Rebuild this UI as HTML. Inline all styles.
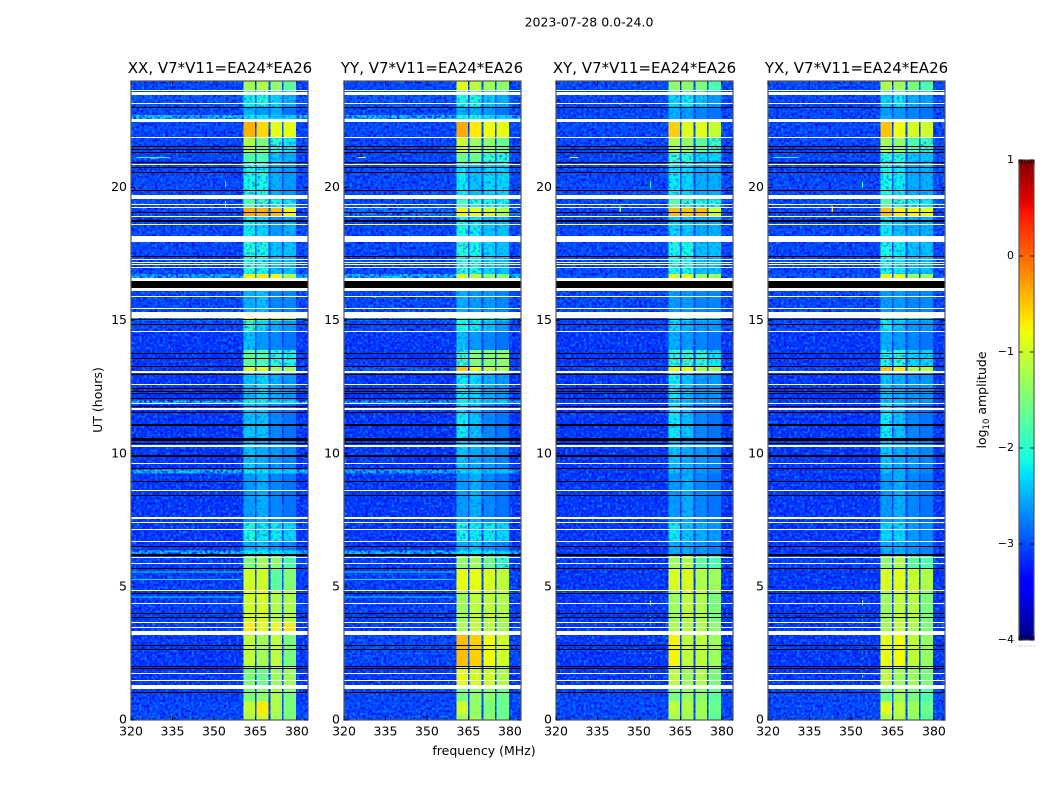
<!DOCTYPE html>
<html lang="en">
<head>
<meta charset="utf-8">
<title>2023-07-28 0.0-24.0</title>
<style>
html,body{margin:0;padding:0;background:#fff;}
#chart{display:block;}
text{font-family:"DejaVu Sans","Liberation Sans",sans-serif;fill:#000;}
</style>
</head>
<body>
<svg id="chart" xmlns="http://www.w3.org/2000/svg" width="1050" height="800" viewBox="0 0 1050 800">
  <defs>
    <filter id="speckle" x="0" y="0" width="100%" height="100%" color-interpolation-filters="sRGB">
      <feTurbulence type="fractalNoise" baseFrequency="0.38" numOctaves="1" seed="4" result="n"/>
      <feColorMatrix in="n" type="matrix" values="0 0 0 0 0  0 0 0 0 0.5  0 0 0 0 1  4 0 0 0 -1.95" result="light"/>
      <feColorMatrix in="n" type="matrix" values="0 0 0 0 0  0 0 0 0 0.06  0 0 0 0 0.95  0 4.5 0 0 -2.0" result="dark"/>
      <feMerge><feMergeNode in="dark"/><feMergeNode in="light"/></feMerge>
    </filter>
    <filter id="speckle-band" x="0" y="0" width="100%" height="100%" color-interpolation-filters="sRGB">
      <feTurbulence type="fractalNoise" baseFrequency="0.38" numOctaves="1" seed="9" result="n"/>
      <feColorMatrix in="n" type="matrix" values="0 0 0 0 0  0 0 0 0 0.45  0 0 0 0 1  0 3 0 0 -1.45"/>
    </filter>
  </defs>
  <rect width="1050" height="800" fill="#fff"/>
  <text x="589" y="26.5" font-size="12.5" text-anchor="middle">2023-07-28 0.0-24.0</text>
  <text x="220" y="73" font-size="15" text-anchor="middle">XX, V7*V11=EA24*EA26</text>
  <text x="432" y="73" font-size="15" text-anchor="middle">YY, V7*V11=EA24*EA26</text>
  <text x="644.5" y="73" font-size="15" text-anchor="middle">XY, V7*V11=EA24*EA26</text>
  <text x="856.5" y="73" font-size="15" text-anchor="middle">YX, V7*V11=EA24*EA26</text>
  <text transform="translate(102,400) rotate(-90)" font-size="12.5" text-anchor="middle">UT (hours)</text>
  <text x="484" y="755" font-size="12.5" text-anchor="middle">frequency (MHz)</text>
  <text transform="translate(986,400) rotate(-90)" font-size="12.5" text-anchor="middle">log<tspan font-size="8.5" dy="3">10</tspan><tspan dy="-3"> amplitude</tspan></text>
  <g id="panels"></g>
  <g id="colorbar"></g>
</svg>
<script>
// ---- Axis data ----
const xTickLabels = [320, 335, 350, 365, 380];
const yTickLabels = [0, 5, 10, 15, 20];
const colorbarTickLabels = [1, 0, -1, -2, -3, -4];
const colorbarEdgeTicks = [0, 0.2, 0.4, 0.6, 0.8, 1];
const panelNames = ['xx', 'yy', 'xy', 'yx'];

// Sub-band limits in MHz
const subBandStart = [360.6, 365.4, 370.4, 375.2];
const subBandEnd = [364.9, 369.7, 374.6, 379.7];

// Time-segment edges in UT hours, descending; segment i runs segmentEdges[i]..segmentEdges[i+1]
const segmentEdges = [24, 23.6, 23.05, 22.72, 22.47, 21.9, 21.3, 20.9, 19.55, 19.25, 18.92, 18.16, 16.75, 16.6, 15.11, 15, 14.6, 13.9, 13.3, 13.1, 12, 11.9, 10.55, 9.4, 9.25, 7.4, 6.7, 6.37, 6.2, 5.7, 4.87, 3.7, 3.19, 2, 1.3, 0.7, 0.2, 0];

// log10 amplitude per segment: [background, band1, band2, band3, band4]
const xxValues = [
[-3.0,-1.3,-1.2,-1.4,-1.7],[-2.9,-2.2,-2.1,-2.3,-2.5],[-3.0,-2.5,-2.6,-2.5,-2.8],[-2.3,-2.2,-2.2,-2.3,-2.3],
[-3.0,-0.4,-0.6,-0.85,-0.85],[-3.0,-1.2,-1.5,-2.0,-2.2],[-3.0,-1.8,-1.8,-2.4,-2.5],[-3.0,-2.1,-2.1,-2.5,-2.6],
[-3.0,-1.8,-1.9,-2.1,-2.2],[-3.0,-0.35,-0.4,-0.45,-0.75],[-3.0,-2.2,-2.3,-2.6,-2.5],[-3.0,-2.05,-2.1,-2.4,-2.4],
[-2.4,-0.8,-0.7,-0.8,-1.2],[-3.0,-2.5,-2.4,-2.7,-2.7],[-2.5,-0.9,-1.2,-1.2,-1.4],[-3.0,-2.0,-2.3,-2.5,-2.6],
[-3.1,-2.4,-2.6,-2.7,-2.8],[-3.1,-1.7,-1.8,-2.0,-2.1],[-3.1,-0.9,-0.95,-1.3,-1.3],[-3.1,-2.4,-2.3,-2.5,-2.6],
[-2.2,-2.1,-2.1,-2.2,-2.2],[-3.1,-2.4,-2.4,-2.7,-2.8],[-3.1,-2.4,-2.5,-2.6,-2.7],[-2.3,-2.2,-2.2,-2.3,-2.3],
[-3.1,-2.6,-2.5,-2.7,-2.8],[-3.1,-2.1,-2.2,-2.2,-2.3],[-3.1,-2.5,-2.4,-2.6,-2.7],[-2.3,-2.2,-2.2,-2.2,-2.3],
[-3.05,-1.5,-1.25,-1.4,-1.8],[-3.05,-1.0,-1.0,-1.7,-1.45],[-3.05,-1.0,-0.95,-1.2,-1.2],[-3.05,-0.7,-0.85,-0.85,-0.7],
[-3.1,-1.1,-1.25,-1.1,-1.5],[-3.1,-1.5,-1.6,-1.3,-1.3],[-3.05,-1.5,-1.4,-1.2,-1.5],[-3.0,-1.1,-0.7,-1.2,-1.5],[-3.0,-1.2,-1.0,-1.3,-1.5]
];
const yyValues = [
[-3.0,-0.9,-1.1,-1.3,-1.4],[-2.9,-2.1,-2.1,-2.4,-2.5],[-3.0,-2.5,-2.5,-2.6,-2.8],[-2.3,-2.1,-2.1,-2.2,-2.3],
[-3.0,-0.35,-0.7,-0.8,-0.85],[-3.0,-1.0,-1.3,-1.4,-1.6],[-3.0,-1.6,-1.6,-1.9,-2.0],[-3.0,-2.2,-2.4,-2.3,-2.3],
[-3.0,-1.8,-2.0,-2.1,-2.1],[-2.7,-0.75,-0.85,-0.95,-1.2],[-3.0,-2.1,-2.2,-2.4,-2.4],[-3.0,-2.0,-2.1,-2.3,-2.4],
[-2.3,-1.0,-1.1,-1.4,-1.5],[-3.0,-2.5,-2.6,-2.6,-2.7],[-2.5,-1.8,-1.8,-1.9,-2.0],[-3.0,-2.1,-2.2,-2.4,-2.6],
[-3.1,-2.4,-2.6,-2.7,-2.8],[-3.1,-1.9,-1.5,-1.45,-1.4],[-2.9,-0.5,-0.85,-1.1,-1.2],[-3.1,-2.2,-2.3,-2.5,-2.6],
[-2.4,-2.2,-2.2,-2.3,-2.3],[-3.1,-2.2,-2.4,-2.7,-2.8],[-3.1,-2.4,-2.5,-2.6,-2.7],[-2.4,-2.3,-2.3,-2.4,-2.4],
[-3.1,-2.6,-2.5,-2.7,-2.8],[-3.1,-2.1,-2.2,-2.2,-2.3],[-3.1,-2.5,-2.4,-2.6,-2.7],[-2.3,-2.2,-2.2,-2.2,-2.3],
[-3.05,-1.4,-1.3,-1.6,-1.9],[-3.05,-0.85,-0.85,-0.95,-1.1],[-3.05,-1.3,-1.1,-1.1,-1.2],[-3.05,-1.2,-1.1,-1.15,-1.25],
[-3.0,-0.45,-0.55,-0.8,-1.0],[-3.1,-0.85,-1.0,-1.0,-1.2],[-3.0,-1.5,-1.4,-1.4,-1.6],[-3.0,-1.0,-1.35,-1.5,-1.6],[-3.0,-1.3,-1.3,-1.4,-1.6]
];
const xyValues = [
[-3.0,-1.4,-1.4,-1.5,-1.8],[-3.0,-2.3,-2.2,-2.4,-2.6],[-3.0,-2.5,-2.6,-2.7,-2.8],[-3.0,-2.5,-2.6,-2.7,-2.8],
[-3.0,-0.55,-0.9,-0.9,-1.05],[-3.0,-1.2,-1.35,-1.7,-1.9],[-3.0,-1.9,-2.0,-2.3,-2.3],[-3.0,-2.2,-2.3,-2.5,-2.5],
[-3.0,-1.7,-1.9,-2.0,-2.1],[-3.0,-0.45,-0.5,-0.45,-1.0],[-3.0,-2.3,-2.4,-2.5,-2.5],[-3.0,-2.1,-2.1,-2.4,-2.4],
[-2.9,-0.9,-0.9,-1.3,-1.3],[-3.0,-2.6,-2.6,-2.7,-2.7],[-3.0,-2.0,-2.1,-2.2,-2.3],[-3.0,-2.3,-2.5,-2.6,-2.6],
[-3.1,-2.5,-2.6,-2.7,-2.8],[-3.1,-2.0,-1.9,-2.0,-2.2],[-3.0,-0.85,-0.85,-1.3,-1.3],[-3.1,-2.2,-2.4,-2.6,-2.6],
[-3.0,-2.4,-2.4,-2.5,-2.6],[-3.1,-2.2,-2.4,-2.7,-2.8],[-3.1,-2.4,-2.5,-2.6,-2.7],[-3.1,-2.4,-2.5,-2.6,-2.7],
[-3.1,-2.6,-2.5,-2.7,-2.8],[-3.1,-2.2,-2.4,-2.5,-2.6],[-3.1,-2.5,-2.5,-2.6,-2.7],[-3.1,-2.5,-2.5,-2.6,-2.7],
[-3.05,-1.3,-1.2,-1.7,-1.8],[-3.1,-0.95,-0.95,-1.2,-1.3],[-3.1,-1.3,-1.1,-1.2,-1.5],[-3.1,-1.2,-1.2,-1.2,-1.4],
[-3.1,-0.75,-1.1,-1.1,-1.3],[-3.1,-1.1,-1.3,-1.2,-1.5],[-3.0,-1.5,-1.3,-1.4,-1.7],[-3.0,-1.1,-1.2,-1.3,-1.6],[-3.0,-1.3,-1.3,-1.3,-1.7]
];
const yxValues = [
[-3.0,-1.2,-1.3,-1.5,-1.8],[-3.0,-2.3,-2.2,-2.5,-2.6],[-3.0,-2.6,-2.6,-2.7,-2.8],[-3.0,-2.5,-2.6,-2.7,-2.8],
[-3.0,-0.5,-0.8,-0.95,-1.0],[-3.0,-1.25,-1.4,-1.8,-1.9],[-3.0,-2.0,-2.0,-2.4,-2.4],[-3.0,-2.1,-2.2,-2.5,-2.5],
[-3.0,-1.7,-1.9,-2.1,-2.2],[-3.0,-0.45,-0.7,-0.75,-0.85],[-3.0,-2.2,-2.4,-2.5,-2.5],[-3.0,-2.1,-2.2,-2.4,-2.4],
[-2.9,-0.85,-0.85,-1.3,-1.3],[-3.0,-2.6,-2.6,-2.7,-2.7],[-3.0,-2.0,-2.1,-2.2,-2.3],[-3.0,-2.2,-2.4,-2.6,-2.6],
[-3.1,-2.5,-2.6,-2.7,-2.8],[-3.1,-2.1,-2.0,-2.3,-2.3],[-3.0,-0.5,-0.7,-1.2,-1.2],[-3.1,-2.4,-2.5,-2.6,-2.6],
[-3.0,-2.4,-2.4,-2.5,-2.6],[-3.1,-2.2,-2.4,-2.7,-2.8],[-3.1,-2.4,-2.5,-2.6,-2.7],[-3.1,-2.4,-2.5,-2.6,-2.7],
[-3.1,-2.6,-2.5,-2.7,-2.8],[-3.1,-2.3,-2.3,-2.6,-2.7],[-3.1,-2.5,-2.5,-2.6,-2.7],[-3.1,-2.5,-2.5,-2.6,-2.7],
[-3.05,-1.4,-1.2,-1.7,-1.8],[-3.1,-0.95,-0.9,-1.05,-1.2],[-3.1,-1.3,-1.1,-1.15,-1.5],[-3.1,-1.25,-1.1,-1.2,-1.5],
[-3.1,-0.85,-0.8,-1.1,-1.35],[-3.1,-1.1,-1.3,-1.3,-1.5],[-3.0,-1.6,-1.3,-1.5,-1.8],[-3.0,-0.9,-1.1,-1.3,-1.6],[-3.0,-1.2,-1.2,-1.4,-1.7]
];

// Flagged time ranges in UT hours [low, high]: blank (white) and zero-amplitude (black)
const blankRows = [
[23.61,23.66],[23.48,23.58],[23.14,23.18],[22.47,22.57],[21.86,21.90],[20.83,20.87],[19.55,19.73],[19.35,19.39],
[19.22,19.25],[18.88,18.92],[18.59,18.63],[17.97,18.16],[17.29,17.32],[17.19,17.22],[17.09,17.13],[16.99,17.02],
[16.50,16.61],[16.12,16.24],[15.90,15.94],[15.45,15.49],[15.11,15.31],[14.59,14.62],[13.05,13.12],[12.58,12.62],
[11.87,11.92],[11.66,11.70],[10.27,10.31],[9.64,9.67],[8.59,8.62],[7.54,7.61],[7.39,7.42],[7.12,7.16],[6.67,6.71],
[6.09,6.13],[5.85,5.89],[4.84,4.87],[4.35,4.39],[3.64,3.67],[3.45,3.49],[3.19,3.35],[1.72,1.76],[1.46,1.52],[1.17,1.32]
];
const zeroRows = [
[22.99,23.03],[21.52,21.55],[21.39,21.43],[21.29,21.33],[20.91,20.94],[20.72,20.76],[20.56,20.59],[19.87,19.90],
[19.06,19.09],[18.71,18.77],[17.40,17.43],[16.24,16.50],[15.03,15.06],[14.84,14.88],[13.73,13.77],[13.55,13.58],
[13.26,13.29],[12.97,13.00],[12.43,12.47],[12.33,12.36],[12.23,12.27],[12.04,12.08],[11.75,11.79],[11.52,11.56],
[11.03,11.10],[10.49,10.58],[10.35,10.40],[9.89,9.95],[9.42,9.47],[8.93,8.99],[8.41,8.45],[6.52,6.55],[6.17,6.22],
[5.67,5.70],[4.74,4.77],[3.98,4.02],[3.83,3.87],[2.77,2.80],[2.63,2.67],[1.98,2.02],[1.91,1.94],[1.02,1.05]
];

// Narrow interference features: [mhzLow, mhzHigh, hourLow, hourHigh, log10 amplitude]
const xxFeatures = [[320,360,5.54,5.57,-2.3],[320,360,5.26,5.29,-2.3],[320,360,4.60,4.63,-2.3],[354,354.4,4.6,4.63,-1.9],[354,354.4,3.86,3.89,-1.9],[354,354.4,19.25,19.5,-1.6],[354,354.4,20.0,20.25,-2],[327,330,21.1,21.13,-1.0],[322,334,21.12,21.15,-2.1]];
const yyFeatures = [[320,360,5.54,5.57,-2.3],[320,360,5.26,5.29,-2.3],[320,360,4.60,4.63,-2.3],[325,328,21.12,21.15,-0.9],[331,331.5,15.86,15.89,-0.4],[331,331.5,15.2,15.23,-1.5]];
const xyFeatures = [[354,354.4,4.84,4.87,-1.5],[354,354.4,4.57,4.6,-1.5],[354,354.4,4.3,4.48,-1.3],[354,354.4,3.97,4,-1.5],[354,354.4,3.86,3.89,-1.5],[354,354.4,3.75,3.78,-1.5],[354,354.4,3.6,3.63,-1.5],[354,354.4,2.92,2.95,-1.5],[354,354.4,2.51,2.54,-1.5],[354,354.4,2.29,2.32,-1.5],[354,354.4,1.95,1.98,-1.5],[354,354.4,1.6,1.68,-1.5],[325,328,21.12,21.15,-0.9],[343,343.5,19.05,19.3,-1.4],[343,343.5,23.1,23.14,-1.6],[354,354.4,20,20.2,-2]];
const yxFeatures = [[354,354.4,4.84,4.87,-1.5],[354,354.4,4.57,4.6,-1.5],[354,354.4,4.3,4.48,-1.3],[354,354.4,3.97,4,-1.5],[354,354.4,3.86,3.89,-1.5],[354,354.4,3.75,3.78,-1.5],[354,354.4,3.6,3.63,-1.5],[354,354.4,2.92,2.95,-1.5],[354,354.4,2.51,2.54,-1.5],[354,354.4,2.29,2.32,-1.5],[354,354.4,1.95,1.98,-1.5],[354,354.4,1.6,1.68,-1.5],[326,329,21.12,21.15,-0.9],[322,331,21.13,21.15,-2.1],[343,343.5,19.05,19.3,-0.6],[354,354.4,20,20.2,-2]];

const panelValues = [xxValues, yyValues, xyValues, yxValues];
const panelFeatures = [xxFeatures, yyFeatures, xyFeatures, yxFeatures];

// ---- Layout and scales ----
const panelLeft = [131, 344, 556, 768];
const panelWidth = 177;
const panelTop = 81;
const panelBottom = 720;
const freqMin = 320, freqMax = 384;
const hourMax = 24;
const cbarLeft = 1019, cbarRight = 1034, cbarTop = 160, cbarBottom = 640;
const ampMin = -4, ampMax = 1;

function xScale(left, mhz) { return left + (mhz - freqMin) / (freqMax - freqMin) * panelWidth; }
function yScale(hour) { return panelBottom - hour / hourMax * (panelBottom - panelTop); }
function ampScale(v) { return cbarBottom - (v - ampMin) / (ampMax - ampMin) * (cbarBottom - cbarTop); }

// Matplotlib "jet" colormap
function jetChannel(t, pts) {
  for (let i = 1; i < pts.length; i++) {
    if (t <= pts[i][0]) {
      const a = pts[i - 1], b = pts[i];
      return a[1] + (b[1] - a[1]) * (t - a[0]) / (b[0] - a[0]);
    }
  }
  return pts[pts.length - 1][1];
}
function jet(v) {
  const t = Math.max(0, Math.min(1, (v - ampMin) / (ampMax - ampMin)));
  const r = jetChannel(t, [[0,0],[0.35,0],[0.66,1],[0.89,1],[1,0.5]]);
  const g = jetChannel(t, [[0,0],[0.125,0],[0.375,1],[0.64,1],[0.91,0],[1,0]]);
  const b = jetChannel(t, [[0,0.5],[0.11,1],[0.34,1],[0.65,0],[1,0]]);
  return 'rgb(' + Math.round(r * 255) + ',' + Math.round(g * 255) + ',' + Math.round(b * 255) + ')';
}

const NS = 'http://www.w3.org/2000/svg';
function svgEl(parent, tag, attrs) {
  const el = document.createElementNS(NS, tag);
  for (const k in attrs) el.setAttribute(k, attrs[k]);
  parent.appendChild(el);
  return el;
}

const panelsRoot = document.getElementById('panels');
const defs = document.querySelector('defs');

panelNames.forEach(function (name, p) {
  const left = panelLeft[p];
  const right = left + panelWidth;
  const values = panelValues[p];

  const clip = svgEl(defs, 'clipPath', { id: 'clip-' + name });
  svgEl(clip, 'rect', { x: left, y: panelTop, width: panelWidth, height: panelBottom - panelTop });

  const group = svgEl(panelsRoot, 'g', {});
  
  

  const image = svgEl(group, 'g', { 'clip-path': 'url(#clip-' + name + ')', 'shape-rendering': 'crispEdges' });
  
  

  const backgroundLayer = svgEl(image, 'g', {});
  
  

  const speckle = svgEl(image, 'rect', { x: left, y: panelTop, width: panelWidth, height: panelBottom - panelTop, filter: 'url(#speckle)' });
  
  

  const faint = svgEl(image, 'g', {});
  
  

  const bandLeft = xScale(left, subBandStart[0]);
  const bandRight = xScale(left, subBandEnd[3]);
  const bandSpeckle = svgEl(image, 'rect', { x: bandLeft, y: panelTop, width: bandRight - bandLeft, height: panelBottom - panelTop, filter: 'url(#speckle-band)' });
  
  

  const strong = svgEl(image, 'g', {});
  
  

  values.forEach(function (row, s) {
    const yA = yScale(segmentEdges[s]);
    const yB = yScale(segmentEdges[s + 1]);
    const bg = svgEl(backgroundLayer, 'rect', { x: left, y: yA, width: panelWidth, height: yB - yA, fill: jet(row[0]) });
    
    
    subBandStart.forEach(function (start, b) {
      const x0 = xScale(left, start);
      const x1 = xScale(left, subBandEnd[b]);
      const v = row[b + 1];
      const target = v <= -1.9 ? faint : strong;
      const cell = svgEl(target, 'rect', { x: x0, y: yA, width: x1 - x0, height: yB - yA, fill: jet(v) });
      
      
    });
  });

  panelFeatures[p].forEach(function (f) {
    const x0 = xScale(left, f[0]);
    const x1 = xScale(left, f[1]);
    const y0 = yScale(f[3]);
    const y1 = yScale(f[2]);
    const mark = svgEl(image, 'rect', { x: x0, y: y0, width: Math.max(1, x1 - x0), height: Math.max(1, y1 - y0), fill: jet(f[4]) });
    
    
  });

  blankRows.forEach(function (r) {
    const y0 = Math.round(yScale(r[1]));
    const y1 = Math.round(yScale(r[0]));
    const line = svgEl(image, 'rect', { x: left, y: y0, width: panelWidth, height: Math.max(1, y1 - y0), fill: '#fff' });
    
    
  });
  zeroRows.forEach(function (r) {
    const y0 = Math.round(yScale(r[1]));
    const y1 = Math.round(yScale(r[0]));
    const line = svgEl(image, 'rect', { x: left, y: y0, width: panelWidth, height: Math.max(1, y1 - y0), fill: '#000' });
    
    
  });

  const frame = svgEl(group, 'rect', { x: left, y: panelTop, width: panelWidth, height: panelBottom - panelTop, fill: 'none', stroke: '#555', 'stroke-width': 1.2 });
  
  

  xTickLabels.forEach(function (t) {
    const x = xScale(left, t);
    const tickB = svgEl(group, 'line', { x1: x, x2: x, y1: panelBottom, y2: panelBottom - 4, stroke: '#000', 'stroke-width': 0.8 });
    
    
    const tickT = svgEl(group, 'line', { x1: x, x2: x, y1: panelTop, y2: panelTop + 4, stroke: '#000', 'stroke-width': 0.8 });
    
    
    const label = svgEl(group, 'text', { x: x, y: 735.5, 'font-size': 12.5, 'text-anchor': 'middle' });
    
    
    label.textContent = String(t);
  });

  yTickLabels.forEach(function (t) {
    const y = yScale(t);
    const tickL = svgEl(group, 'line', { x1: left, x2: left + 4, y1: y, y2: y, stroke: '#000', 'stroke-width': 0.8 });
    
    
    const tickR = svgEl(group, 'line', { x1: right, x2: right - 4, y1: y, y2: y, stroke: '#000', 'stroke-width': 0.8 });
    
    
    const label = svgEl(group, 'text', { x: left - 4, y: y + 3.5, 'font-size': 12.5, 'text-anchor': 'end' });
    
    
    label.textContent = String(t);
  });
});

// ---- Colorbar ----
const cbarRoot = document.getElementById('colorbar');
const cbarRamp = svgEl(cbarRoot, 'g', { 'shape-rendering': 'crispEdges' });


for (let py = cbarTop; py < cbarBottom; py++) {
  const level = ampMax - (py + 0.5 - cbarTop) / (cbarBottom - cbarTop) * (ampMax - ampMin);
  const swatch = svgEl(cbarRamp, 'rect', { x: cbarLeft, y: py, width: cbarRight - cbarLeft, height: 1, fill: jet(level) });
  
  
}
const cbarFrame = svgEl(cbarRoot, 'rect', { x: cbarLeft, y: cbarTop, width: cbarRight - cbarLeft, height: cbarBottom - cbarTop, fill: 'none', stroke: '#555', 'stroke-width': 1.2 });


colorbarTickLabels.forEach(function (t) {
  const y = ampScale(t);
  const tickL = svgEl(cbarRoot, 'line', { x1: cbarLeft, x2: cbarLeft + 4, y1: y, y2: y, stroke: '#000', 'stroke-width': 0.8 });
  
  
  const tickR = svgEl(cbarRoot, 'line', { x1: cbarRight, x2: cbarRight - 4, y1: y, y2: y, stroke: '#000', 'stroke-width': 0.8 });
  
  
  const label = svgEl(cbarRoot, 'text', { x: cbarLeft - 5, y: y + 3, 'font-size': 11, 'text-anchor': 'end' });
  
  
  label.textContent = String(t).replace('-', '\u2212');
});
colorbarEdgeTicks.forEach(function (f) {
  const x = cbarLeft + f * (cbarRight - cbarLeft);
  const tickT = svgEl(cbarRoot, 'line', { x1: x, x2: x, y1: cbarTop, y2: cbarTop + 4, stroke: '#000', 'stroke-width': 0.8 });
  
  
  const tickB = svgEl(cbarRoot, 'line', { x1: x, x2: x, y1: cbarBottom, y2: cbarBottom - 4, stroke: '#000', 'stroke-width': 0.8 });
  
  
  const dot = svgEl(cbarRoot, 'rect', { x: x - 0.5, y: 645.5, width: 1, height: 1, fill: '#999' });
  
  
});
</script>
</body>
</html>
